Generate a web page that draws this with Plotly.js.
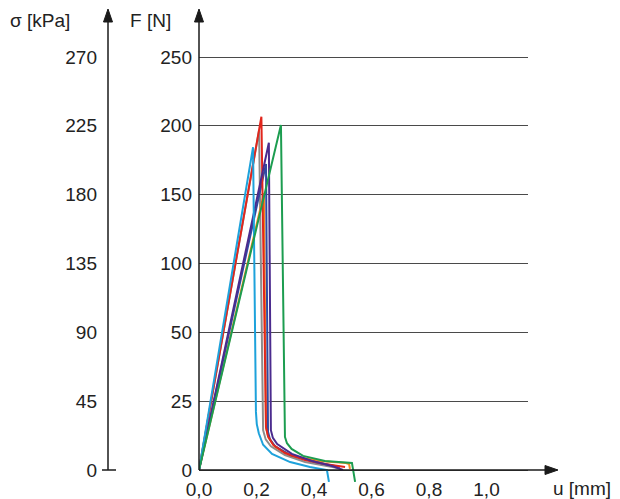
<!DOCTYPE html>
<html><head><meta charset="utf-8">
<script src="https://cdn.plot.ly/plotly-3.0.1.min.js"></script>
<style>html,body{margin:0;padding:0;background:#fff}#chart{width:620px;height:499px}</style>
</head><body><div id="chart"></div>
<script>
// x-axis ticks (u [mm])
const xTickVals = [0, 0.2, 0.4, 0.6, 0.8, 1.0];
const xTickText = ['0,0', '0,2', '0,4', '0,6', '0,8', '1,0'];
// stress axis ticks (σ [kPa]) and matching force labels (F [N])
const sigmaTicks = [0, 45, 90, 135, 180, 225, 270];
const sigmaText = ['0', '45', '90', '135', '180', '225', '270'];
const forceText = ['0', '25', '50', '100', '150', '200', '250'];

// series: displacement u [mm] and stress σ [kPa]
const uCyan   = [0, 0.188, 0.198, 0.201, 0.208, 0.223, 0.254, 0.317, 0.386, 0.445, 0.452];
const sCyan   = [0, 211, 38, 30, 24, 16.5, 10.5, 5.2, 2.0, 0, -7.8];
const uGray   = [0, 0.209, 0.223, 0.232, 0.250, 0.299, 0.369, 0.456, 0.483];
const sGray   = [0, 222, 26, 20, 15.5, 9.8, 5.2, 2.6, 1.3];
const uRed    = [0, 0.217, 0.233, 0.240, 0.258, 0.299, 0.369, 0.438, 0.508];
const sRed    = [0, 231, 28, 22, 16.5, 11.1, 6.5, 3.9, 2.0];
const uOrange = [0, 0.226, 0.233, 0.242, 0.264, 0.323, 0.421, 0.511, 0.522, 0.525];
const sOrange = [0, 181, 27.5, 21, 15.2, 9.2, 5.9, 4.6, 3.9, 0.7];
const uBlue   = [0, 0.233, 0.240, 0.247, 0.265, 0.317, 0.403, 0.490];
const sBlue   = [0, 200, 25, 20, 15.5, 9.8, 5.2, 2.0];
const uPurple = [0, 0.243, 0.250, 0.257, 0.272, 0.323, 0.393, 0.463, 0.501];
const sPurple = [0, 214, 26, 21, 17, 10.5, 5.9, 2.6, 0];
const uGreen  = [0, 0.285, 0.299, 0.306, 0.322, 0.362, 0.438, 0.532, 0.543];
const sGreen  = [0, 225.5, 21.6, 17.5, 13.8, 9.2, 5.9, 4.6, -7.8];

const series = [
  [uGray, sGray, '#8c8c8c'],
  [uOrange, sOrange, '#f28a1f'],
  [uBlue, sBlue, '#2f4aa0'],
  [uRed, sRed, '#e2261c'],
  [uPurple, sPurple, '#4b2b8e'],
  [uCyan, sCyan, '#1ea2db'],
  [uGreen, sGreen, '#1c9d50']
];
const traces = series.map(s => ({
  x: s[0], y: s[1], type: 'scatter', mode: 'lines',
  line: {color: s[2], width: 2}, showlegend: false, hoverinfo: 'skip'
}));
traces.push({x: [], y: [], yaxis: 'y2', type: 'scatter', mode: 'lines', showlegend: false});

// layout geometry (pixels)
const W = 620, H = 499, L = 20, R = 528, T = 50, B = 486;
const px = x => (x - L) / (R - L);
const py = y => (B - y) / (B - T);
const ymin = -16 / 1.5296, ymax = 420 / 1.5296;
const font = {family: 'Liberation Sans, Arial, sans-serif', size: 19, color: '#222'};
const ink = '#1a1a1a';

function line(x0, y0, x1, y1) {
  return {type: 'line', xref: 'paper', yref: 'paper', x0: px(x0), y0: py(y0), x1: px(x1), y1: py(y1),
          line: {color: ink, width: 1.5}, layer: 'above'};
}
function tri(pts) {
  const d = 'M' + pts.map(p => px(p[0]) + ',' + py(p[1])).join(' L') + ' Z';
  return {type: 'path', xref: 'paper', yref: 'paper', path: d, fillcolor: ink, line: {color: ink, width: 1}, layer: 'above'};
}

const layout = {
  width: W, height: H,
  margin: {l: L, r: W - R, t: T, b: H - B, pad: 0},
  paper_bgcolor: '#fff', plot_bgcolor: 'rgba(0,0,0,0)',
  font: font,
  xaxis: {
    domain: [px(199), 1], range: [0, (R - 199) / 287.5],
    anchor: 'free', position: py(470),
    tickvals: xTickVals, ticktext: xTickText, ticks: '',
    showgrid: false, zeroline: false, showline: false,
    tickfont: font, ticklabelstandoff: 6
  },
  yaxis: {
    range: [ymin, ymax], anchor: 'x', side: 'left',
    tickvals: sigmaTicks, ticktext: forceText, ticks: '',
    showgrid: true, gridcolor: '#4a4a4a', gridwidth: 1,
    zeroline: false, showline: false, tickfont: font, ticklabelstandoff: 6
  },
  yaxis2: {
    range: [ymin, ymax], overlaying: 'y', anchor: 'free', position: px(108), side: 'left',
    tickvals: sigmaTicks, ticktext: sigmaText, ticks: '',
    showgrid: false, zeroline: false, showline: false, tickfont: font, ticklabelstandoff: 11
  },
  shapes: [
    line(108, 470, 108, 20), tri([[108, 9], [103.5, 22], [112.5, 22]]),
    line(102, 470, 116, 470),
    line(199, 470, 199, 20), tri([[199, 9], [194.5, 22], [203.5, 22]]),
    line(199, 470, 546, 470), tri([[558, 470], [545, 465.5], [545, 474.5]])
  ],
  annotations: [
    {text: 'σ [kPa]', xref: 'paper', yref: 'paper', x: px(8), y: py(20), xanchor: 'left', yanchor: 'middle', showarrow: false, font: font},
    {text: 'F [N]', xref: 'paper', yref: 'paper', x: px(128), y: py(20), xanchor: 'left', yanchor: 'middle', showarrow: false, font: font},
    {text: 'u [mm]', xref: 'paper', yref: 'paper', x: px(551), y: py(488), xanchor: 'left', yanchor: 'middle', showarrow: false, font: font}
  ]
};
Plotly.newPlot('chart', traces, layout, {staticPlot: true, displayModeBar: false});
</script></body></html>
